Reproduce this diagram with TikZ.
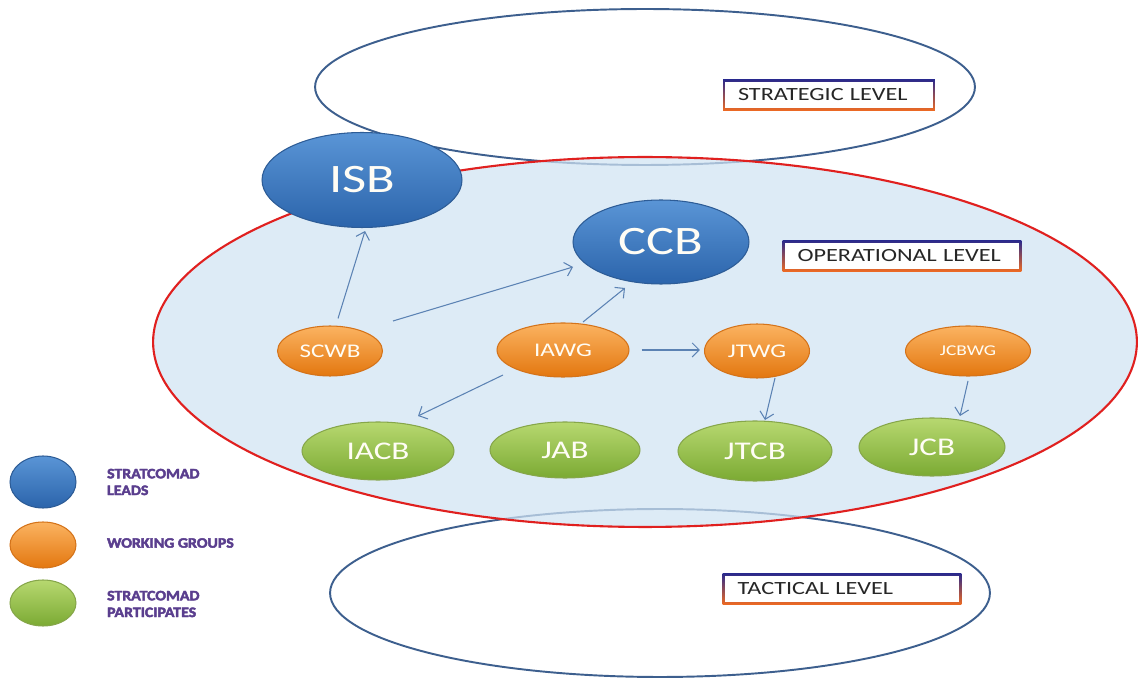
\documentclass[tikz,border=0pt]{standalone}
\usepackage{fontspec}
\setmainfont{Carlito}[FakeStretch=1.3]
\newfontfamily\legendfont{Carlito}[FakeStretch=1.1, BoldFeatures={FakeBold=3}]
\usetikzlibrary{shapes.geometric,arrows.meta,calc}

\definecolor{ringblue}{HTML}{3D5F8E}
\definecolor{ringred}{HTML}{E0201F}
\definecolor{opfill}{HTML}{D0E3F3}
\definecolor{leadtop}{HTML}{5A95D6}
\definecolor{leadbot}{HTML}{2B64AB}
\definecolor{leadedge}{HTML}{2D5C96}
\definecolor{wgtop}{HTML}{FBB361}
\definecolor{wgbot}{HTML}{E3770F}
\definecolor{wgedge}{HTML}{D4731A}
\definecolor{ptop}{HTML}{B7D870}
\definecolor{pbot}{HTML}{7BAA33}
\definecolor{pedge}{HTML}{86A64A}
\definecolor{arrowblue}{HTML}{5B82B3}
\definecolor{textgray}{HTML}{262626}
\definecolor{legendpurple}{HTML}{5A3E8E}
\definecolor{frametop}{HTML}{2B2A8C}
\definecolor{framebot}{HTML}{EE6A22}
\definecolor{nodetext}{HTML}{FFFDF5}

\begin{document}
\begin{tikzpicture}[x=0.02cm,y=-0.02cm,
  ring/.style={ellipse, draw=ringblue, line width=1.1pt, inner sep=0pt},
  oval/.style={ellipse, inner sep=0pt, line width=0.6pt, text=nodetext},
  lead/.style={oval, draw=leadedge, top color=leadtop, bottom color=leadbot,
    font=\fontsize{23}{26}\selectfont},
  wgroup/.style={oval, draw=wgedge, top color=wgtop, bottom color=wgbot,
    font=\fontsize{11}{13}\selectfont},
  partic/.style={oval, draw=pedge, top color=ptop, bottom color=pbot,
    font=\fontsize{14.5}{16}\selectfont},
  legendtext/.style={anchor=west, align=left, text=legendpurple, inner sep=1pt,
    font=\legendfont\fontsize{8.2}{9.5}\selectfont\bfseries},
  levelbox/.style={rectangle, fill=white, minimum height=0.62cm, inner xsep=0.3cm,
    align=left, text=textgray, font=\fontsize{10.6}{12}\selectfont,
    path picture={
      \shade[top color=frametop, bottom color=framebot]
        (path picture bounding box.south west) rectangle (path picture bounding box.north east);
      \fill[white]
        ([shift={(1.2pt,1.2pt)}]path picture bounding box.south west) rectangle
        ([shift={(-1.2pt,-1.2pt)}]path picture bounding box.north east);
    }},
  arr/.style={draw=arrowblue, line width=0.6pt, -{Straight Barb[length=4pt,width=8pt]}}
]
\useasboundingbox (0,0) rectangle (1139,678);

% strategic and tactical rings, seen faintly through the operational area
\node[ring, minimum width=13.2cm, minimum height=3.12cm] (strategic) at (645,87) {};
\node[ring, minimum width=13.2cm, minimum height=3.36cm] (tactical) at (660,593) {};

% operational area
\node[ellipse, inner sep=0pt, fill=opfill, fill opacity=0.72, minimum width=19.68cm,
  minimum height=7.4cm] (operational) at (645,342) {};
\node[ellipse, inner sep=0pt, draw=ringred, line width=1.2pt, minimum width=19.68cm,
  minimum height=7.4cm] (opring) at (645,342) {};

% level labels
\node[levelbox, minimum width=4.24cm, text width=3.64cm] (lblstrat) at (829,95) {STRATEGIC LEVEL};
\node[levelbox, minimum width=4.78cm, text width=4.18cm] (lblop) at (902,256) {OPERATIONAL LEVEL};
\node[levelbox, minimum width=4.78cm, text width=4.18cm] (lbltac) at (842,589) {TACTICAL LEVEL};

% leads
\node[lead, minimum width=4.0cm, minimum height=1.9cm] (isb) at (362,180) {ISB};
\node[lead, minimum width=3.52cm, minimum height=1.68cm] (ccb) at (661,242) {CCB};

% working groups
\node[wgroup, minimum width=2.1cm, minimum height=1.0cm] (scwb) at (330,351) {SCWB};
\node[wgroup, minimum width=2.64cm, minimum height=1.08cm] (iawg) at (563,350) {IAWG};
\node[wgroup, minimum width=2.1cm, minimum height=1.08cm] (jtwg) at (757,351) {JTWG};
\node[wgroup, minimum width=2.5cm, minimum height=1.0cm, font=\fontsize{8.5}{10}\selectfont] (jcbwg) at (968,351) {JCBWG};

% participants
\node[partic, minimum width=3.04cm, minimum height=1.16cm] (iacb) at (378,451) {IACB};
\node[partic, minimum width=3.0cm, minimum height=1.12cm] (jab) at (565,450) {JAB};
\node[partic, minimum width=3.08cm, minimum height=1.2cm] (jtcb) at (755,451) {JTCB};
\node[partic, minimum width=2.92cm, minimum height=1.16cm] (jcb) at (932,447) {JCB};

% reporting lines
\draw[arr] ($(scwb.north)+(8,-7)$) -- ($(isb.south)+(3,3)$);
\draw[arr] ($(scwb.center)+(63,-30)$) -- ($(ccb.center)+(-88,25)$);
\draw[arr] ($(iawg.center)+(20,-28)$) -- ($(ccb.center)+(-36,46)$);
\draw[arr] ($(iawg.east)+(12,0)$) -- ($(jtwg.west)+(-4,-1)$);
\draw[arr] ($(iawg.center)+(-60,25)$) -- ($(iacb.center)+(40,-35)$);
\draw[arr] ($(jtwg.center)+(18,27)$) -- ($(jtcb.center)+(10,-31)$);
\draw[arr] ($(jcbwg.center)+(0,30)$) -- ($(jcb.center)+(28,-31)$);

% legend
\node[lead, minimum width=1.32cm, minimum height=1.04cm] (keylead) at (43,482) {};
\node[wgroup, minimum width=1.32cm, minimum height=0.92cm] (keywg) at (43,545) {};
\node[partic, minimum width=1.32cm, minimum height=0.92cm] (keypart) at (43,603) {};
\node[legendtext] (keyleadtxt) at (105,482) {STRATCOMAD\\LEADS};
\node[legendtext] (keywgtxt) at (105,543) {WORKING GROUPS};
\node[legendtext] (keyparttxt) at (105,604) {STRATCOMAD\\PARTICIPATES};
\end{tikzpicture}
\end{document}
